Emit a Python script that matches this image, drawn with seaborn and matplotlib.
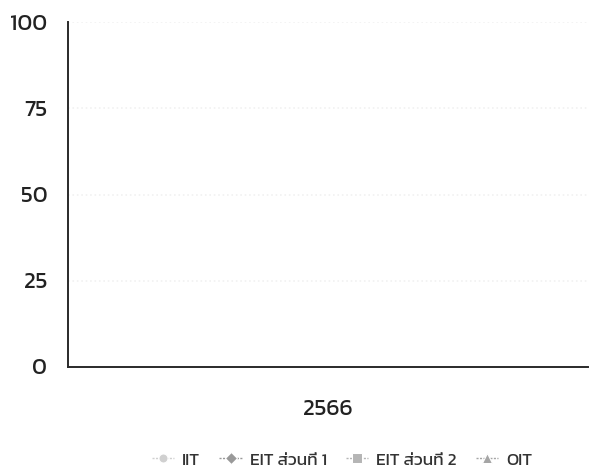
import matplotlib
matplotlib.use("Agg")
import matplotlib.pyplot as plt
import numpy as np
import pandas as pd
import seaborn as sns

# ---- data (the reference chart shows no values: every series is empty) ----
years = ["2566"]
series_names = ["IIT", "EIT ส่วนที่ 1", "EIT ส่วนที่ 2", "OIT"]
iit = [np.nan]
eit1 = [np.nan]
eit2 = [np.nan]
oit = [np.nan]
y_ticks = [0, 25, 50, 75, 100]

values = {series_names[0]: iit, series_names[1]: eit1,
          series_names[2]: eit2, series_names[3]: oit}
rows = []
for name in series_names:
    for yr, v in zip(years, values[name]):
        rows.append({"year": years.index(yr), "series": name, "value": v})
df = pd.DataFrame(rows)

sns.set_theme(style="white")
plt.rcParams["font.family"] = ["Kanit", "DejaVu Sans"]
plt.rcParams["font.weight"] = "normal"

fig = plt.figure(figsize=(5.89, 4.68), dpi=100)
ax = fig.add_axes([68 / 589, 1 - 367 / 468, 1 - 68 / 589 - 0.002, (367 - 22) / 468])

palette = {series_names[0]: "#d0d0d0", series_names[1]: "#999999",
           series_names[2]: "#b5b5b5", series_names[3]: "#a5a5a5"}
markers = {series_names[0]: "o", series_names[1]: "D",
           series_names[2]: "s", series_names[3]: "^"}
dashes = {n: (1.5, 1.0) for n in series_names}

sns.lineplot(data=df, x="year", y="value", hue="series", style="series",
             hue_order=series_names, style_order=series_names,
             palette=palette, markers=markers, dashes=dashes,
             markersize=6.5, linewidth=1.0, ax=ax)

ax.set_xlim(-0.5, 0.5)
ax.set_ylim(0, 100)
ax.set_xticks(range(len(years)))
ax.set_xticklabels(years)
ax.set_yticks(y_ticks)
ax.set_yticklabels([str(t) for t in y_ticks])
ax.set_xlabel("")
ax.set_ylabel("")
ax.tick_params(axis="y", length=0, pad=15, labelsize=16.5, colors="#222222")
ax.tick_params(axis="x", length=0, pad=24, labelsize=16.5, colors="#222222")
ax.yaxis.grid(True, color="#f1f1f1", linestyle=":", linewidth=1.2)
ax.xaxis.grid(False)
for s in ["top", "right"]:
    ax.spines[s].set_visible(False)
for s in ["left", "bottom"]:
    ax.spines[s].set_color("#2a2a2a")
    ax.spines[s].set_linewidth(1.4)

handles, labels = ax.get_legend_handles_labels()
if ax.get_legend() is not None:
    ax.get_legend().remove()
fig.legend(handles, labels, loc="center", bbox_to_anchor=(342 / 589, 1 - 460 / 468),
           ncol=4, frameon=False, fontsize=12.5, handlelength=1.3,
           handletextpad=0.45, columnspacing=1.1, labelcolor="#333333")

fig.savefig("out.png", dpi=100)
